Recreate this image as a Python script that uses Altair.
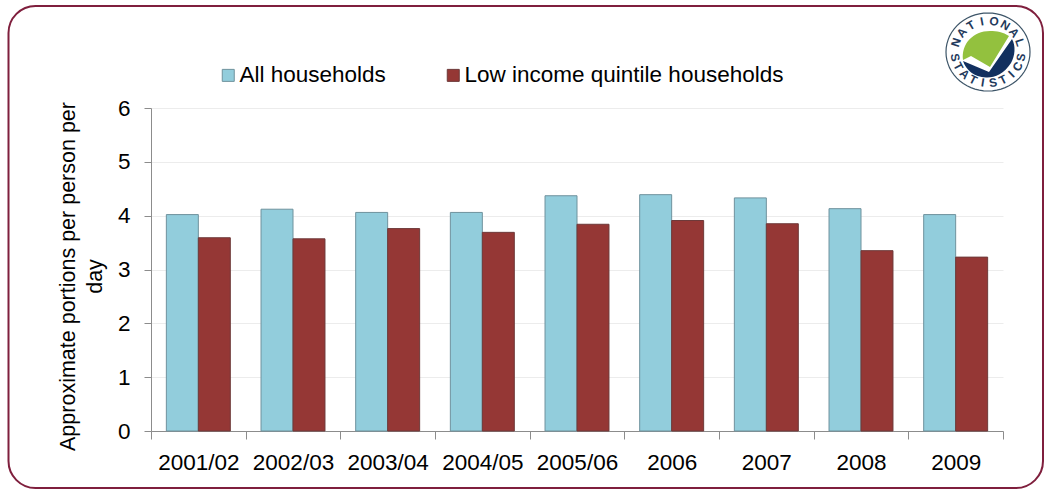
import math
import altair as alt
import pandas as pd

FONT = "Liberation Sans"

# Survey years and fruit-and-vegetable portions per person per day
years = ["2001/02", "2002/03", "2003/04", "2004/05", "2005/06", "2006", "2007", "2008", "2009"]
all_households = [4.02, 4.12, 4.06, 4.06, 4.37, 4.39, 4.33, 4.13, 4.02]
low_income = [3.59, 3.57, 3.76, 3.69, 3.84, 3.91, 3.85, 3.35, 3.23]
series_names = ["All households", "Low income quintile households"]
fill_colours = ["#92cddc", "#953735"]
edge_colours = ["#6f929d", "#6e3a3a"]

PLOT_W, PLOT_H = 852, 323
LEFT, TOP, RIGHT, BOTTOM = 151, 108, 41, 59

bars_df = pd.DataFrame(
    [{"year": y, "series": series_names[0], "portions": v} for y, v in zip(years, all_households)]
    + [{"year": y, "series": series_names[1], "portions": v} for y, v in zip(years, low_income)]
)

# Rounded maroon panel outline around the whole figure
frame = alt.Chart(pd.DataFrame({"k": [0]})).mark_rect(
    fillOpacity=0, stroke="#7f1f3d", strokeWidth=2, cornerRadius=27, clip=False
).encode(
    x=alt.value(8.5 - LEFT),
    x2=alt.value(1043 - LEFT),
    y=alt.value(6 - TOP),
    y2=alt.value(488 - TOP),
)

legend = alt.Legend(
    title=None, orient="none", direction="horizontal", columns=2, legendX=63, legendY=-44,
    symbolType="square", symbolSize=144, symbolStrokeWidth=1, symbolOffset=3, labelFont=FONT,
    labelFontSize=22.5, labelColor="#000000", labelOffset=0, columnPadding=53, labelLimit=400,
    symbolOpacity=1,
)

bars = alt.Chart(bars_df).mark_bar(strokeWidth=1, opacity=1).encode(
    x=alt.X(
        "year:N", sort=years, scale=alt.Scale(paddingInner=0, paddingOuter=0), title=None,
        axis=alt.Axis(
            labelAngle=0, labelFont=FONT, labelFontSize=22.5, labelColor="#000000", labelPadding=12,
            tickBand="extent", tickSize=8, tickColor="#8c8c8c", domainColor="#8c8c8c", grid=False,
        ),
    ),
    xOffset=alt.XOffset("series:N", sort=series_names, scale=alt.Scale(paddingInner=0, paddingOuter=0.48)),
    y=alt.Y(
        "portions:Q", scale=alt.Scale(domain=[0, 6], nice=False),
        axis=alt.Axis(
            values=[0, 1, 2, 3, 4, 5, 6], format="d", labelFont=FONT, labelFontSize=22.5,
            labelColor="#000000", labelPadding=14, tickSize=7, tickColor="#8c8c8c",
            domainColor="#8c8c8c", gridColor="#ececec", gridWidth=1,
            title=["Approximate portions per person per", "day"], titleFont=FONT, titleFontSize=21.5,
            titleFontWeight="normal", titleColor="#000000", titleLineHeight=27,
            titleX=-83, titleY=168, titleAngle=270, titleAlign="center", titleBaseline="middle",
        ),
    ),
    color=alt.Color("series:N", sort=series_names, scale=alt.Scale(domain=series_names, range=fill_colours), legend=legend),
    stroke=alt.Stroke("series:N", sort=series_names, scale=alt.Scale(domain=series_names, range=edge_colours), legend=legend),
)

# National Statistics roundel: ring, two-tone disc with a tick, and lettering around the edge
LOGO_CX, LOGO_CY = 988 - LEFT, 52 - TOP
LOGO_RX, LOGO_RY = 42.0, 39.0
ring_path = " ".join(
    ("M" if i == 0 else "L") + f"{LOGO_RX * math.cos(math.radians(i)):.1f},{LOGO_RY * math.sin(math.radians(i)):.1f}"
    for i in range(0, 360, 6)
) + " Z"
green_path = "M-25,8 C-27,-8 -15,-21 2,-21 C9,-21 15,-20 21,-16 L2,15 L-17,4 Z"
navy_path = "M-25,9 L1,20 L24,-13 C28,-6 27,4 23,11 C16,22 6,26 -2,25.5 C-14,25 -22,18 -25,9 Z"

logo_center = pd.DataFrame({"k": [0]})
def logo_shape(path, **style):
    return alt.Chart(logo_center).mark_point(shape=path, size=4, opacity=1, clip=False, **style).encode(
        x=alt.value(LOGO_CX), y=alt.value(LOGO_CY)
    )

ring = logo_shape(ring_path, filled=False, stroke="#3d5568", strokeWidth=1.2)
green = logo_shape(green_path, filled=True, fill="#93c13e", strokeWidth=0)
navy = logo_shape(navy_path, filled=True, fill="#12305f", strokeWidth=0)

top_word, bottom_word = "NATIONAL", "STATISTICS"
letters = []
for i, ch in enumerate(top_word):
    a = -72 + 144 * i / (len(top_word) - 1)
    letters.append({"ch": ch, "px": LOGO_CX + 33.5 * math.sin(math.radians(a)),
                    "py": LOGO_CY - 31 * math.cos(math.radians(a)), "rot": a % 360})
for i, ch in enumerate(bottom_word):
    a = -80 + 160 * i / (len(bottom_word) - 1)
    letters.append({"ch": ch, "px": LOGO_CX + 33.5 * math.sin(math.radians(a)),
                    "py": LOGO_CY + 31 * math.cos(math.radians(a)), "rot": (-a) % 360})

lettering = alt.Chart(pd.DataFrame(letters)).mark_text(
    font=FONT, fontSize=12, fontWeight="bold", color="#1f3a5c", baseline="middle", align="center", clip=False
).encode(
    x=alt.X("px:Q", scale=None, axis=None),
    y=alt.Y("py:Q", scale=None, axis=None),
    text="ch:N",
    angle=alt.Angle("rot:Q", scale=None),
)

chart = (
    alt.layer(frame, bars, ring, green, navy, lettering)
    .resolve_scale(x="independent", y="independent")
    .properties(
        width=PLOT_W, height=PLOT_H,
        padding={"left": LEFT, "top": TOP, "right": RIGHT, "bottom": BOTTOM},
        autosize=alt.AutoSizeParams(type="none"),
        background="#ffffff",
    )
    .configure_view(stroke=None)
)

chart.save("out.html", embed_options={"renderer": "svg", "actions": False})
